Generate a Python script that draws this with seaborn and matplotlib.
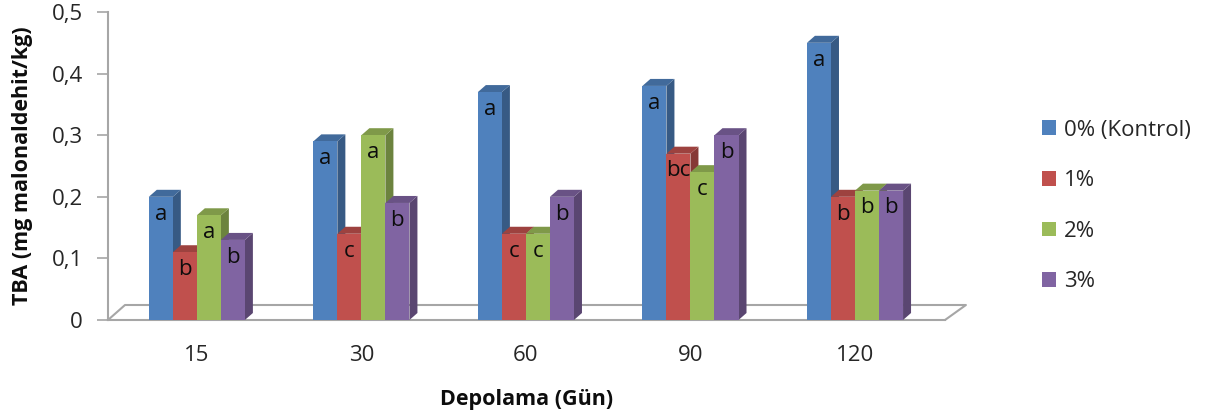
import numpy as np
import pandas as pd
import matplotlib
matplotlib.use('Agg')
import matplotlib.pyplot as plt
import seaborn as sns
from matplotlib.patches import Polygon, Patch
from matplotlib.colors import to_rgb
from matplotlib.transforms import IdentityTransform

# data
days = ['15', '30', '60', '90', '120']
groups = ['0% (Kontrol)', '1%', '2%', '3%']
kontrol = [0.20, 0.29, 0.37, 0.38, 0.45]
pct1 = [0.11, 0.14, 0.14, 0.27, 0.20]
pct2 = [0.17, 0.30, 0.14, 0.24, 0.21]
pct3 = [0.13, 0.19, 0.20, 0.30, 0.21]
letters = [['a', 'a', 'a', 'a', 'a'],
           ['b', 'c', 'c', 'bc', 'b'],
           ['a', 'a', 'c', 'c', 'b'],
           ['b', 'b', 'b', 'b', 'b']]
colors = ['#4F81BD', '#C0504D', '#9BBB59', '#8064A2']

df = pd.DataFrame({'Gun': days * 4,
                   'Grup': np.repeat(groups, len(days)),
                   'TBA': kontrol + pct1 + pct2 + pct3})

sns.set_style('white')
plt.rcParams['font.family'] = ['Open Sans', 'DejaVu Sans']

fig = plt.figure(figsize=(12.21, 4.18), dpi=100)
W, H = 1221, 418
ax = fig.add_axes([108 / W, 1 - 320 / H, (945 - 108) / W, 308 / H])

sns.barplot(data=df, x='Gun', y='TBA', hue='Grup', palette=colors, width=0.584,
            saturation=1, ax=ax, legend=False, linewidth=0)

fs = 16
ax.set_xlim(-0.54, 4.547)
ax.set_ylim(0, 0.5)
ax.set_yticks([0, 0.1, 0.2, 0.3, 0.4, 0.5])
ax.set_yticklabels(['0', '0,1', '0,2', '0,3', '0,4', '0,5'])
ax.tick_params(axis='y', length=8, width=1.2, color='#A6A6A6', labelsize=fs, pad=10, left=True)
ax.tick_params(axis='x', length=0, labelsize=fs, pad=18)
for lab in ax.get_xticklabels() + ax.get_yticklabels():
    lab.set_color('#262626')
for s in ['top', 'right']:
    ax.spines[s].set_visible(False)
ax.spines['left'].set_color('#A6A6A6')
ax.spines['left'].set_linewidth(1.5)
ax.spines['bottom'].set_color('#A6A6A6')
ax.spines['bottom'].set_linewidth(1.5)

# floor of the 3d box
ax.plot([0, 0.0203, 1.025, 1.0], [0, 0.0487, 0.0487, 0], transform=ax.transAxes,
        color='#A6A6A6', lw=1.5, clip_on=False, zorder=1)

ax.set_xlabel('Depolama (Gün)', fontsize=fs - 0.5, fontweight='bold', color='#0D0D0D')
ax.set_ylabel('TBA (mg malonaldehit/kg)', fontsize=fs - 0.5, fontweight='bold', color='#0D0D0D')
ax.xaxis.set_label_coords(0.5, -(400 - 320) / 308)
ax.yaxis.set_label_coords(-(108 - 22) / 837, 0.5)
ax.xaxis.label.set_va('center')
ax.yaxis.label.set_va('center')

# fake depth on bars
dx, dy = 8, 7
fig.canvas.draw()
z = 3
bars = []
for gi, cont in enumerate(ax.containers):
    for di, bar in enumerate(cont.patches):
        bars.append((bar.get_x(), gi, di, bar))
bars.sort(key=lambda t: t[0])
for x0, gi, di, bar in bars:
    c = np.array(to_rgb(colors[gi]))
    (x1, y1), (x2, y2) = ax.transData.transform([(bar.get_x(), 0),
                                                  (bar.get_x() + bar.get_width(), bar.get_height())])
    side = Polygon([(x2, y1), (x2 + dx, y1 + dy), (x2 + dx, y2 + dy), (x2, y2)],
                   closed=True, transform=IdentityTransform(), facecolor=c * 0.7,
                   edgecolor='none', zorder=z, clip_on=False)
    top = Polygon([(x1, y2), (x1 + dx, y2 + dy), (x2 + dx, y2 + dy), (x2, y2)],
                  closed=True, transform=IdentityTransform(), facecolor=c * 0.82,
                  edgecolor='none', zorder=z, clip_on=False)
    ax.add_patch(side)
    ax.add_patch(top)
    bar.set_zorder(z + 0.5)
    ax.text(bar.get_x() + bar.get_width() / 2, bar.get_height() - 0.028, letters[gi][di],
            ha='center', va='center', fontsize=fs, color='#0D0D0D', zorder=z + 0.8)
    z += 1

handles = [Patch(facecolor=c, edgecolor='none') for c in colors]
fig.legend(handles, groups, loc='center left', bbox_to_anchor=(1022 / W, 1 - 206 / H),
           frameon=False, fontsize=fs, handlelength=0.65, handleheight=0.65,
           handletextpad=0.35, labelspacing=1.33, labelcolor='#262626')

fig.savefig('out.png', dpi=100)
